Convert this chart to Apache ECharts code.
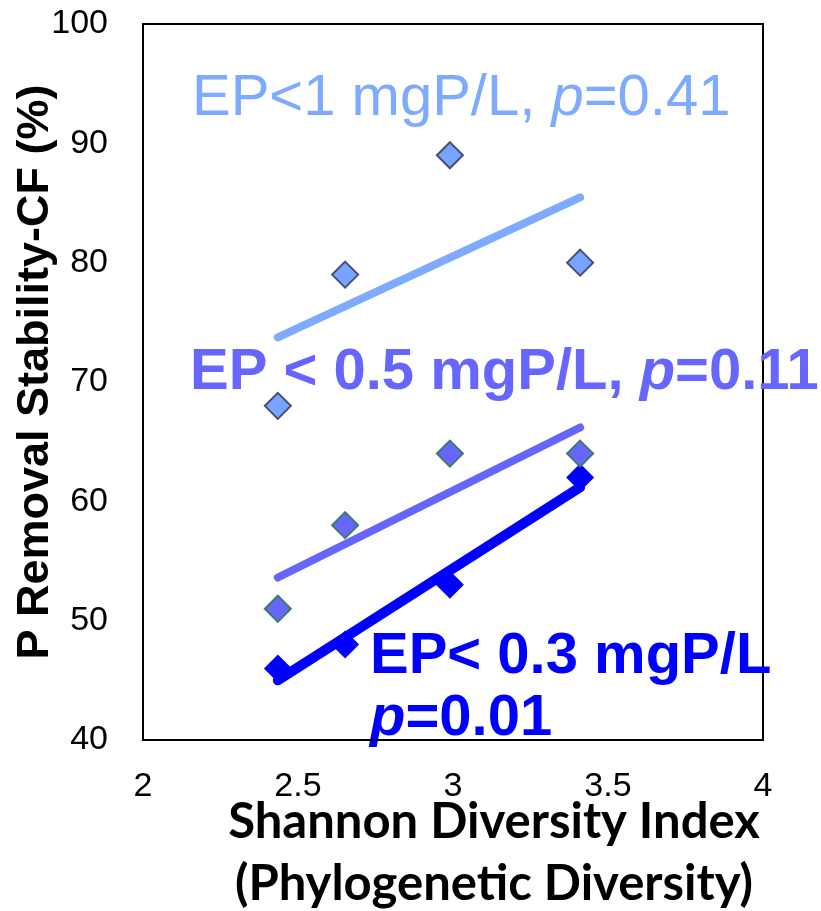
<!DOCTYPE html>
<html lang="en">

<head>
    <meta charset="UTF-8">
    <title>P removal stability vs Shannon diversity</title>
    <script src="https://cdn.jsdelivr.net/npm/echarts@6/dist/echarts.min.js"></script>
    <style>
        html, body { margin: 0; padding: 0; background: #fff; }
    </style>
</head>

<body>
    <div id="main" style="width:821px;height:911px;"></div>
    <script>
        // Shannon diversity index of each reactor (same x for all three groups)
        var diversity = [2.435, 2.652, 2.99, 3.41];
        // P removal stability (%) per effluent-P threshold
        var epBelow1 = [68, 79, 89, 80];
        var epBelow05 = [51, 58, 64, 64];
        var epBelow03 = [46, 48, 53, 62];
        var xTicks = [2, 2.5, 3, 3.5, 4];
        var yTicks = [40, 50, 60, 70, 80, 90, 100];

        var arial = '"Liberation Sans", Arial, sans-serif';

        function pairs(ys) {
            var out = [];
            for (var i = 0; i < diversity.length; i++) {
                out.push([diversity[i], ys[i]]);
            }
            return out;
        }

        // least squares line, drawn over the range of the data
        function trend(ys) {
            var n = diversity.length, mx = 0, my = 0;
            for (var i = 0; i < n; i++) { mx += diversity[i]; my += ys[i]; }
            mx /= n; my /= n;
            var sxy = 0, sxx = 0;
            for (var j = 0; j < n; j++) {
                sxy += (diversity[j] - mx) * (ys[j] - my);
                sxx += (diversity[j] - mx) * (diversity[j] - mx);
            }
            var b = sxy / sxx, a = my - b * mx;
            var x0 = Math.min.apply(null, diversity), x1 = Math.max.apply(null, diversity);
            return [[x0, a + b * x0], [x1, a + b * x1]];
        }

        // rich text style for the annotations, p in italics
        function richStyle(color, weight, lh) {
            return {
                a: { fontFamily: arial, fontSize: 58, fontWeight: weight, fill: color, lineHeight: lh },
                i: { fontFamily: arial, fontSize: 58, fontWeight: weight, fill: color, fontStyle: 'italic', lineHeight: lh }
            };
        }

        var myChart = echarts.init(document.getElementById('main'));

        var option = {
            backgroundColor: '#fff',
            animation: false,
            grid: {
                left: 143,
                top: 24,
                right: 58,
                bottom: 171,
                show: true,
                borderColor: '#000',
                borderWidth: 2
            },
            xAxis: {
                type: 'value',
                min: xTicks[0],
                max: xTicks[xTicks.length - 1],
                interval: 0.5,
                axisLine: { show: true, lineStyle: { color: '#000', width: 2 } },
                axisTick: { show: false },
                splitLine: { show: false },
                axisLabel: {
                    margin: 30,
                    color: '#000',
                    fontFamily: arial,
                    fontSize: 34
                }
            },
            yAxis: {
                type: 'value',
                min: yTicks[0],
                max: yTicks[yTicks.length - 1],
                interval: 10,
                axisLine: { show: true, lineStyle: { color: '#000', width: 2 } },
                axisTick: { show: false },
                splitLine: { show: false },
                axisLabel: {
                    margin: 35,
                    color: '#000',
                    fontFamily: arial,
                    fontSize: 34
                }
            },
            series: [{
                type: 'line',
                data: trend(epBelow1),
                symbol: 'none',
                z: 2,
                lineStyle: { color: '#7eaaff', width: 8, cap: 'round' }
            }, {
                type: 'line',
                data: trend(epBelow05),
                symbol: 'none',
                z: 2,
                lineStyle: { color: '#6666ff', width: 8, cap: 'round' }
            }, {
                type: 'line',
                data: trend(epBelow03),
                symbol: 'none',
                z: 2,
                lineStyle: { color: '#0000ff', width: 10, cap: 'round' }
            }, {
                type: 'scatter',
                data: pairs(epBelow03),
                symbol: 'diamond',
                symbolSize: 28,
                z: 3,
                itemStyle: { color: '#0000ff', opacity: 1 }
            }, {
                type: 'scatter',
                data: pairs(epBelow05),
                symbol: 'diamond',
                symbolSize: 26,
                z: 4,
                itemStyle: { color: '#6666ff', borderColor: '#3d7a70', borderWidth: 2, opacity: 1 }
            }, {
                type: 'scatter',
                data: pairs(epBelow1),
                symbol: 'diamond',
                symbolSize: 26,
                z: 4,
                itemStyle: { color: '#75a5ff', borderColor: '#4a4d78', borderWidth: 2, opacity: 1 }
            }],
            graphic: [{
                type: 'text',
                left: 192, top: 70,
                style: {
                    text: '{a|EP<1 mgP/L, }{i|p}{a|=0.41}',
                    rich: richStyle('#7eaaff', 'normal', 70)
                }
            }, {
                type: 'text',
                left: 190, top: 344,
                style: {
                    text: '{a|EP < 0.5 mgP/L, }{i|p}{a|=0.11}',
                    rich: richStyle('#6666ff', 'bold', 70)
                }
            }, {
                type: 'text',
                left: 370, top: 628,
                style: {
                    text: '{a|EP< 0.3 mgP/L}\n{i|p}{a|=0.01}',
                    rich: richStyle('#0000ff', 'bold', 62)
                }
            }, {
                type: 'text',
                x: 36, y: 372,
                rotation: Math.PI / 2,
                style: {
                    text: 'P Removal Stability-CF (%)',
                    fontFamily: arial,
                    fontSize: 45,
                    fontWeight: 'bold',
                    fill: '#000',
                    align: 'center',
                    verticalAlign: 'middle'
                }
            }, {
                type: 'text',
                x: 494, y: 822,
                style: {
                    text: 'Shannon Diversity Index',
                    fontFamily: 'Lato, "Open Sans", sans-serif',
                    fontSize: 49,
                    fontWeight: 'bold',
                    fill: '#000',
                    align: 'center',
                    verticalAlign: 'middle'
                }
            }, {
                type: 'text',
                x: 494, y: 884,
                style: {
                    text: '(Phylogenetic Diversity)',
                    fontFamily: 'Lato, "Open Sans", sans-serif',
                    fontSize: 49,
                    fontWeight: 'bold',
                    fill: '#000',
                    align: 'center',
                    verticalAlign: 'middle'
                }
            }]
        };
        myChart.setOption(option);
    </script>
</body>

</html>
